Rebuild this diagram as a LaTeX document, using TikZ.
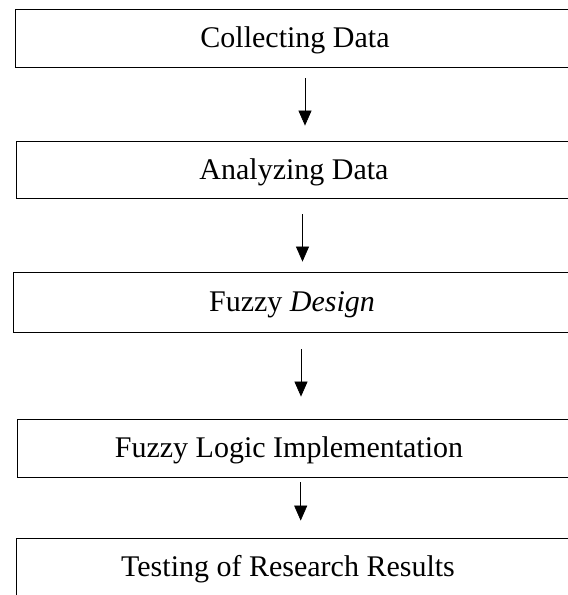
\documentclass[tikz,border=0pt]{standalone}
\usepackage{fontspec}
\setmainfont{Liberation Serif}
\usetikzlibrary{arrows.meta}
\newcommand{\shifttext}[2]{\hspace*{-#1}#2\hspace*{#1}}
\begin{document}
\begin{tikzpicture}[x=1pt,y=-1pt,
  stagebox/.style={draw=black, line width=0.8pt, inner xsep=0pt, inner ysep=0pt,
    font=\fontsize{30}{35}\selectfont, text height=19.9pt, text depth=0pt,
    anchor=center},
  flowarrow/.style={draw=black, line width=0.7pt, -{Triangle[length=15pt,width=13pt]}}]
\useasboundingbox (0,0) rectangle (568,595);
\clip (0,0) rectangle (568,595);
\node[stagebox, minimum width=560pt, minimum height=58pt] (b1) at (295,38) {Collecting Data};
\node[stagebox, minimum width=558pt, minimum height=57pt] (b2) at (295,169.5) {\shifttext{1pt}{Analyzing Data}};
\node[stagebox, minimum width=564pt, minimum height=60pt] (b3) at (295,302) {\shifttext{3pt}{Fuzzy \textit{Design}}};
\node[stagebox, minimum width=556pt, minimum height=58pt] (b4) at (295,448) {\shifttext{6pt}{Fuzzy Logic Implementation}};
\node[stagebox, minimum width=558pt, minimum height=58pt] (b5) at (295,567) {\shifttext{7pt}{Testing of Research Results}};
\draw[flowarrow] ([xshift=10pt,yshift=-11pt]b1.south) -- ([xshift=10pt,yshift=15pt]b2.north);
\draw[flowarrow] ([xshift=7.5pt,yshift=-16pt]b2.south) -- ([xshift=7.5pt,yshift=10pt]b3.north);
\draw[flowarrow] ([xshift=6pt,yshift=-17pt]b3.south) -- ([xshift=6pt,yshift=22pt]b4.north);
\draw[flowarrow] ([xshift=5.7pt,yshift=-5pt]b4.south) -- ([xshift=5.7pt,yshift=17pt]b5.north);
\end{tikzpicture}
\end{document}
